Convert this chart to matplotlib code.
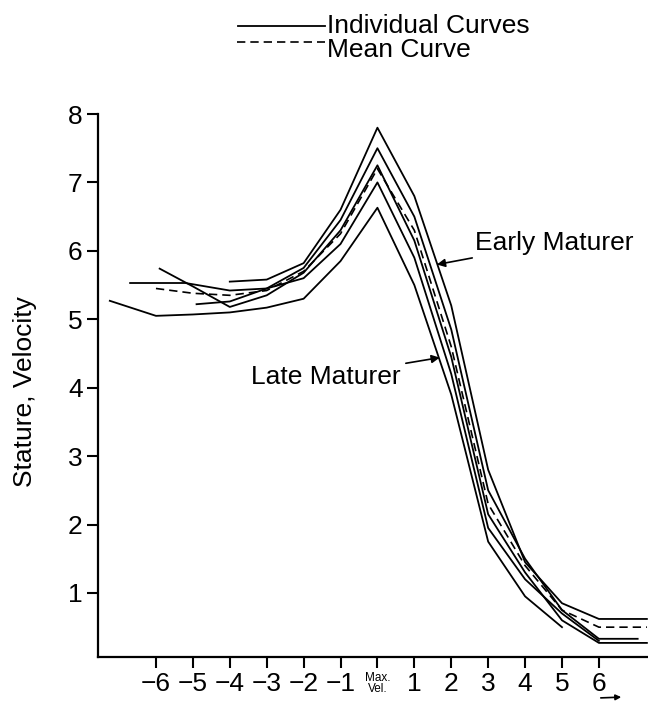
import matplotlib
matplotlib.use("Agg")
import matplotlib.pyplot as plt

plt.rcParams['font.family'] = ['Liberation Sans', 'DejaVu Sans']

# years from peak velocity, and stature velocity for each individual curve
early_x = [-4, -3, -2, -1, 0, 1, 2, 3, 4, 5, 6, 7.3]
early_y = [5.55, 5.58, 5.82, 6.6, 7.8, 6.8, 5.2, 2.8, 1.45, 0.85, 0.62, 0.62]

c2_x = [-4.9, -4, -3, -2, -1, 0, 1, 2, 3, 4, 5, 6, 7.05]
c2_y = [5.22, 5.26, 5.45, 5.75, 6.45, 7.5, 6.5, 4.85, 2.5, 1.5, 0.75, 0.33, 0.33]

c3_x = [-5.9, -5, -4, -3, -2, -1, 0, 1, 2, 3, 4, 5, 6, 7.3]
c3_y = [5.74, 5.48, 5.18, 5.35, 5.68, 6.3, 7.25, 6.15, 4.45, 2.15, 1.3, 0.6, 0.27, 0.27]

c4_x = [-6.7, -5.2, -4, -3, -2, -1, 0, 1, 2, 3, 4, 5, 6]
c4_y = [5.53, 5.53, 5.42, 5.45, 5.6, 6.1, 7.0, 5.9, 4.2, 1.95, 1.2, 0.7, 0.3]

late_x = [-7.25, -6, -5, -4, -3, -2, -1, 0, 1, 2, 3, 4, 5]
late_y = [5.27, 5.05, 5.07, 5.1, 5.17, 5.3, 5.85, 6.63, 5.5, 3.9, 1.75, 0.95, 0.5]

mean_x = [-6, -5, -4, -3, -2, -1, 0, 1, 2, 3, 4, 5, 6, 7.3]
mean_y = [5.45, 5.38, 5.35, 5.42, 5.7, 6.25, 7.2, 6.3, 4.6, 2.3, 1.4, 0.75, 0.5, 0.5]

x_ticks = [-6, -5, -4, -3, -2, -1, 0, 1, 2, 3, 4, 5, 6]
x_labels = ['\u22126', '\u22125', '\u22124', '\u22123', '\u22122', '\u22121',
            'Max.\nVel.', '1', '2', '3', '4', '5', '6']
y_ticks = [1, 2, 3, 4, 5, 6, 7, 8]

W, H = 648, 704
fig = plt.figure(figsize=(W / 100, H / 100), dpi=100)
ax = fig.add_axes([98 / W, 1 - 657 / H, 1 - 98 / W, (657 - 114) / H])

for xs, ys in [(early_x, early_y), (c2_x, c2_y), (c3_x, c3_y), (c4_x, c4_y), (late_x, late_y)]:
    ax.plot(xs, ys, color='black', lw=1.3)
ax.plot(mean_x, mean_y, color='black', lw=1.2, ls=(0, (5, 3)))

ax.set_xlim(-7.57, 7.33)
ax.set_ylim(0.064, 8.0)
for s in ['top', 'right']:
    ax.spines[s].set_visible(False)
for s in ['left', 'bottom']:
    ax.spines[s].set_linewidth(1.6)

ax.set_xticks(x_ticks)
ax.set_xticklabels(x_labels)
ax.set_yticks(y_ticks)
ax.tick_params(axis='both', direction='out', length=8, width=1.5, labelsize=19, pad=3)
lab = ax.get_xticklabels()[6]
lab.set_fontsize(8.5)
lab.set_linespacing(0.9)

fig.text(25 / W, 1 - 392 / H, 'Stature, Velocity', rotation=90, fontsize=19,
         ha='center', va='center')

# legend drawn by hand, like the original
fig.add_artist(plt.Line2D([238 / W, 325 / W], [1 - 26 / H, 1 - 26 / H], color='black', lw=1.3))
fig.add_artist(plt.Line2D([237 / W, 325 / W], [1 - 42 / H, 1 - 42 / H], color='black', lw=1.2,
                          ls=(0, (5, 3))))
fig.text(327 / W, 1 - 26 / H, 'Individual Curves', fontsize=19, ha='left', va='center')
fig.text(327 / W, 1 - 50 / H, 'Mean Curve', fontsize=19, ha='left', va='center')

ax.annotate('Early Maturer', xy=(1.61, 5.8), xytext=(2.64, 6.12), fontsize=19,
            ha='left', va='center',
            arrowprops=dict(arrowstyle='-|>', color='black', lw=1.2, shrinkA=2, shrinkB=0,
                            mutation_scale=12))
ax.annotate('Late Maturer', xy=(1.69, 4.44), xytext=(0.62, 4.16), fontsize=19,
            ha='right', va='center',
            arrowprops=dict(arrowstyle='-|>', color='black', lw=1.2, shrinkA=2, shrinkB=0,
                            mutation_scale=12))

fig.add_artist(matplotlib.patches.FancyArrowPatch((598 / W, 1 - 698 / H), (624 / W, 1 - 697 / H),
                                                  transform=fig.transFigure, arrowstyle='-|>',
                                                  mutation_scale=8, color='black', lw=1.2))

fig.savefig('out.png', dpi=100)
